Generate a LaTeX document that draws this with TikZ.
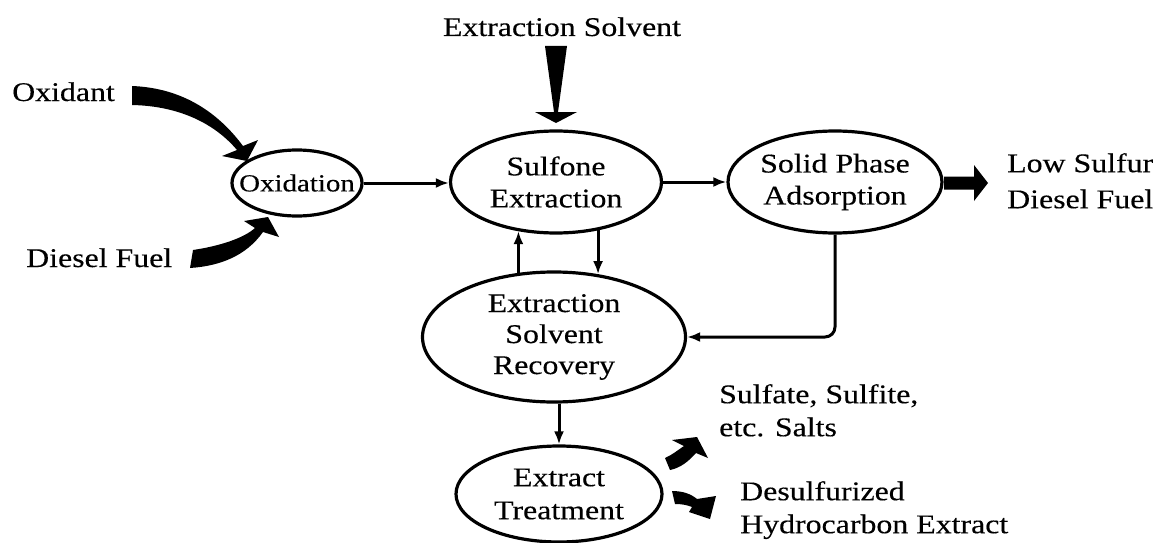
\documentclass[tikz,border=0pt]{standalone}
\usepackage{fontspec}
\setmainfont{Liberation Serif}[FakeStretch=1.18,FakeBold=0.3]
\usetikzlibrary{shapes.geometric,arrows.meta}
\tikzset{
  proc/.style={ellipse, draw, line width=3.2pt, inner sep=0pt},
  ptxt/.style={inner sep=0pt, align=center, font=\fontsize{27}{32}\selectfont},
  lbl/.style={inner sep=0pt, align=left, font=\fontsize{27}{33}\selectfont},
  flow/.style={line width=3pt, -{Latex[length=13pt,width=10pt]}},
  fat/.style={fill=black, draw=none},
}
\begin{document}
\begin{tikzpicture}[x=1pt,y=-1pt]
\useasboundingbox[fill=white] (0,0) rectangle (1162,543);

% process ellipses
\node[proc, minimum width=130pt, minimum height=66pt,
      label={[ptxt, font=\fontsize{24.5}{28}\selectfont]center:Oxidation}] (ox) at (297,183) {};
\node[proc, minimum width=211pt, minimum height=102pt,
      label={[ptxt]center:{Sulfone\\Extraction}}] (sul) at (556,182) {};
\node[proc, minimum width=214pt, minimum height=102pt,
      label={[ptxt]center:{Solid Phase\\Adsorption}}] (sol) at (835,182) {};
\node[proc, minimum width=263pt, minimum height=130pt,
      label={[ptxt, font=\fontsize{27}{31}\selectfont]center:{Extraction\\Solvent\\Recovery}}] (esr) at (554,337) {};
\node[proc, minimum width=206pt, minimum height=96pt,
      label={[ptxt, font=\fontsize{27}{33}\selectfont]center:{Extract\\Treatment}}] (et) at (559,494) {};

% text labels
\node[lbl, anchor=base] (esl) at (562,36) {Extraction Solvent};
\node[lbl, anchor=base west] (oxl) at (12,101) {Oxidant};
\node[lbl, anchor=base west] (dfl) at (26,267) {Diesel Fuel};
\node[lbl, anchor=north west, font=\fontsize{27}{36}\selectfont] (lsf) at (1007,153) {Low Sulfur\\Diesel Fuel};
\node[lbl, anchor=north west] (salts) at (719,384) {Sulfate, Sulfite,\\etc. Salts};
\node[lbl, anchor=north west] (hce) at (740,481) {Desulfurized\\Hydrocarbon Extract};

% thin flow connectors
\draw[flow] (ox.east) -- (ox.east -| sul.west);
\draw[flow] (sul.east) -- (sol.west);
\draw[flow] (esr.119) -- (esr.119 |- sul.232);
\draw[flow] (sul.-49) -- (sul.-49 |- esr.55);
\draw[flow, rounded corners=10pt] (sol.south) -- (sol.south |- esr.east) -- (esr.east);
\draw[flow] (esr.south -| et.north) -- (et.north);

% extraction solvent wedge arrow
\fill[fat] (545,46) -- (567,46) -- (558,112) -- (577,112) -- (556,123)
  -- (535,112) -- (554,112) -- cycle;

% block arrow to low sulfur diesel fuel
\fill[fat] (944,176.5) -- (974,176.5) -- (974,165) -- (988,183) -- (974,201)
  -- (974,189.5) -- (944,189.5) -- cycle;

% oxidant curved arrow
\fill[fat] (132,86) .. controls (185,88) and (220,115) .. (243,146)
  -- (258,140) -- (247,161) -- (222,156) -- (237,150)
  .. controls (215,124) and (180,106) .. (132,105) -- cycle;

% diesel fuel curved arrow
\fill[fat] (193,250) .. controls (220,246) and (244,238) .. (255,228)
  -- (244,221) -- (268,217) -- (279,237) -- (263,232)
  .. controls (246,256) and (220,266) .. (190,268) -- cycle;

% extract treatment outputs
\fill[fat] (665,458) .. controls (672,455) and (678,450) .. (684,446)
  -- (672,440) -- (697,437) -- (708,458) -- (696,453)
  .. controls (688,462) and (680,468) .. (670,470) -- cycle;
\fill[fat] (672,491) .. controls (683,491) and (691,494) .. (697,499)
  -- (716,496) -- (710,519) -- (689,512) -- (692,507)
  .. controls (687,505) and (682,504) .. (675,504) -- cycle;
\end{tikzpicture}
\end{document}
